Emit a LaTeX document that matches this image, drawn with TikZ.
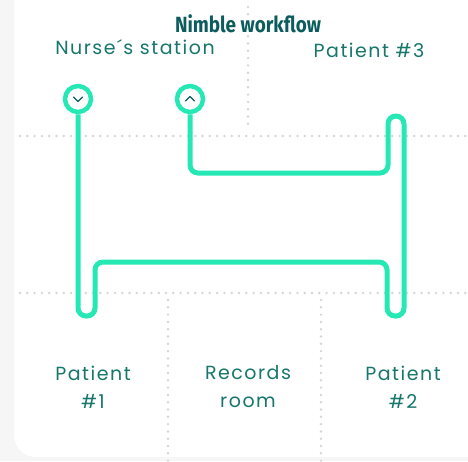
\documentclass[tikz,border=0pt]{standalone}
\usepackage{fontspec}
\setmainfont{Poppins}[LetterSpace=8]
\newfontfamily\titlefont{Fira Sans}[FakeStretch=0.86]
\definecolor{flowgreen}{HTML}{25E8B4}
\definecolor{labelteal}{HTML}{17776B}
\definecolor{titleteal}{HTML}{0C5C5E}
\definecolor{gridgray}{HTML}{D6D6D6}
\definecolor{sidegray}{HTML}{F6F6F6}
\begin{document}
\begin{tikzpicture}[x=1pt,y=-1pt,
  grid/.style={gridgray,line width=2.7pt,line cap=round,dash pattern=on 0pt off 7.3pt},
  flow/.style={flowgreen,line width=5pt,rounded corners=8pt},
  stop/.style={circle,draw=flowgreen,line width=4.5pt,fill=white,minimum size=26pt,inner sep=0pt},
  chev/.style={titleteal,line width=1.4pt,line cap=round,line join=round},
  room/.style={labelteal,align=center,font=\fontsize{19}{28}\selectfont}]
  \useasboundingbox (0,0) rectangle (468,461);
  \fill[sidegray] (0,0) rectangle (468,461);
  \fill[white,rounded corners=22pt] (14,-30) rectangle (500,457);
  \draw[grid] (20,136) -- (468,136);
  \draw[grid] (20,293) -- (468,293);
  \draw[grid] (248,7) -- (248,130);
  \draw[grid] (168,300) -- (168,461);
  \draw[grid] (321,300) -- (321,461);
  \node[stop] (c1) at (78,99) {};
  \node[stop] (c2) at (190,99) {};
  \draw[flow] (c1) -- (78,316) -- (95,316) -- (95,262) -- (387,262) -- (387,316) -- (404,316)
    -- (404,116) -- (388,116) -- (388,173) -- (190,173) -- (c2);
  \draw[chev] ([xshift=-4.5pt,yshift=2pt]c1.center) -- ([yshift=-2.5pt]c1.center) -- ([xshift=4.5pt,yshift=2pt]c1.center);
  \draw[chev] ([xshift=-4.5pt,yshift=-2pt]c2.center) -- ([yshift=2.5pt]c2.center) -- ([xshift=4.5pt,yshift=-2pt]c2.center);
  \node[titleteal,font=\titlefont\bfseries\fontsize{22}{26}\selectfont] (title) at (248,24) {Nimble workflow};
  \node[room] (nurse) at (135,47) {Nurse´s station};
  \node[room] (p3) at (369,50) {Patient \#3};
  \node[room] (p1) at (93,387) {Patient\\\#1};
  \node[room] (rec) at (248,387) {Records\\room};
  \node[room] (p2) at (403,387) {Patient\\\#2};
\end{tikzpicture}
\end{document}
